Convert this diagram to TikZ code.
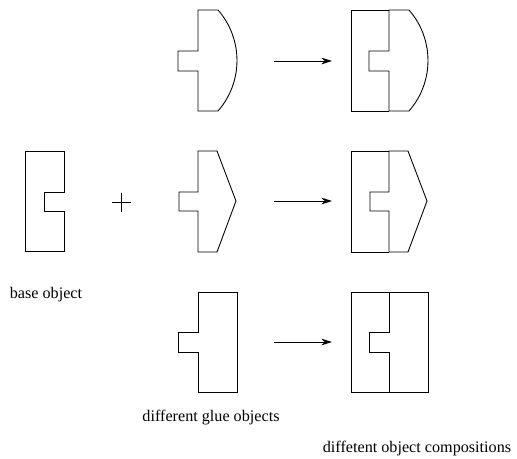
\documentclass[tikz,border=0pt]{standalone}
\usepackage{fontspec}
\setmainfont{Liberation Serif}
\usepackage{tikz}
\usetikzlibrary{arrows.meta,positioning,calc}

\begin{document}
\begin{tikzpicture}[
    x=0.3mm, y=-0.3mm,
    >={Stealth[length=3.2mm,width=2mm]},
    line width=0.75pt,
    outline/.style={
        draw,
        line join=miter
    },
    arrowline/.style={
        ->,
        line width=0.75pt
    },
    label/.style={
        font=\fontsize{13.8}{16}\selectfont,
        anchor=base,
        inner sep=0pt
    }
]
\useasboundingbox (0,0) rectangle (517,458);

% =========================================================
% base object + glue objects
% =========================================================
% base object
\draw[outline] (25,151) -- (64,151) -- (64,192) -- (44,192) -- (44,211)
    -- (64,211) -- (64,251) -- (25,251) -- cycle;
\node[label] (baselbl) at (46,298) {base object};

% plus sign
\coordinate (plus) at (121,202);
\draw ($(plus)+(-9.5,0)$) -- ($(plus)+(9.5,0)$);
\draw ($(plus)+(0,-9.5)$) -- ($(plus)+(0,9.5)$);

% glue 1 (round)
\draw[outline] (218,10) -- (198,10) -- (198,51) -- (178,51) -- (178,71)
    -- (198,71) -- (198,111) -- (218,111)
    .. controls (243.3,82.1) and (243.3,38.9) .. cycle;

% glue 2 (pointed)
\draw[outline] (217,151) -- (198,151) -- (198,192) -- (179,192) -- (179,211)
    -- (198,211) -- (198,252) -- (217,252) -- (236,201) -- cycle;

% glue 3 (square)
\draw[outline] (237,292) -- (198,292) -- (198,332) -- (178,332) -- (178,352)
    -- (198,352) -- (198,392) -- (237,392) -- cycle;

\node[label] (gluelbl) at (211,421) {different glue objects};

% =========================================================
% compositions
% =========================================================
% composition 1
\draw[outline] (389,10) -- (351,10) -- (351,111) -- (389,111);
\draw[outline] (409,10) -- (389,10) -- (389,51) -- (369,51) -- (369,71)
    -- (389,71) -- (389,111) -- (409,111)
    .. controls (434.3,82.1) and (434.3,38.9) .. cycle;

% composition 2
\draw[outline] (389,151) -- (351,151) -- (351,252) -- (389,252);
\draw[outline] (408,151) -- (389,151) -- (389,192) -- (370,192) -- (370,211)
    -- (389,211) -- (389,252) -- (408,252) -- (427,201) -- cycle;

% composition 3
\draw[outline] (389,292) -- (351,292) -- (351,392) -- (389,392);
\draw[outline] (428,292) -- (389,292) -- (389,332) -- (369,332) -- (369,352)
    -- (389,352) -- (389,392) -- (428,392) -- cycle;

\node[label] (complbl) at (417,452) {diffetent object compositions};

% =========================================================
% arrows
% =========================================================
\coordinate (a1s) at (274,61);
\coordinate (a1e) at (332,61);
\coordinate (a2s) at (274,201);
\coordinate (a2e) at (332,201);
\coordinate (a3s) at (274,342);
\coordinate (a3e) at (332,342);

\draw[arrowline] (a1s) -- (a1e);
\draw[arrowline] (a2s) -- (a2e);
\draw[arrowline] (a3s) -- (a3e);

\end{tikzpicture}
\end{document}
